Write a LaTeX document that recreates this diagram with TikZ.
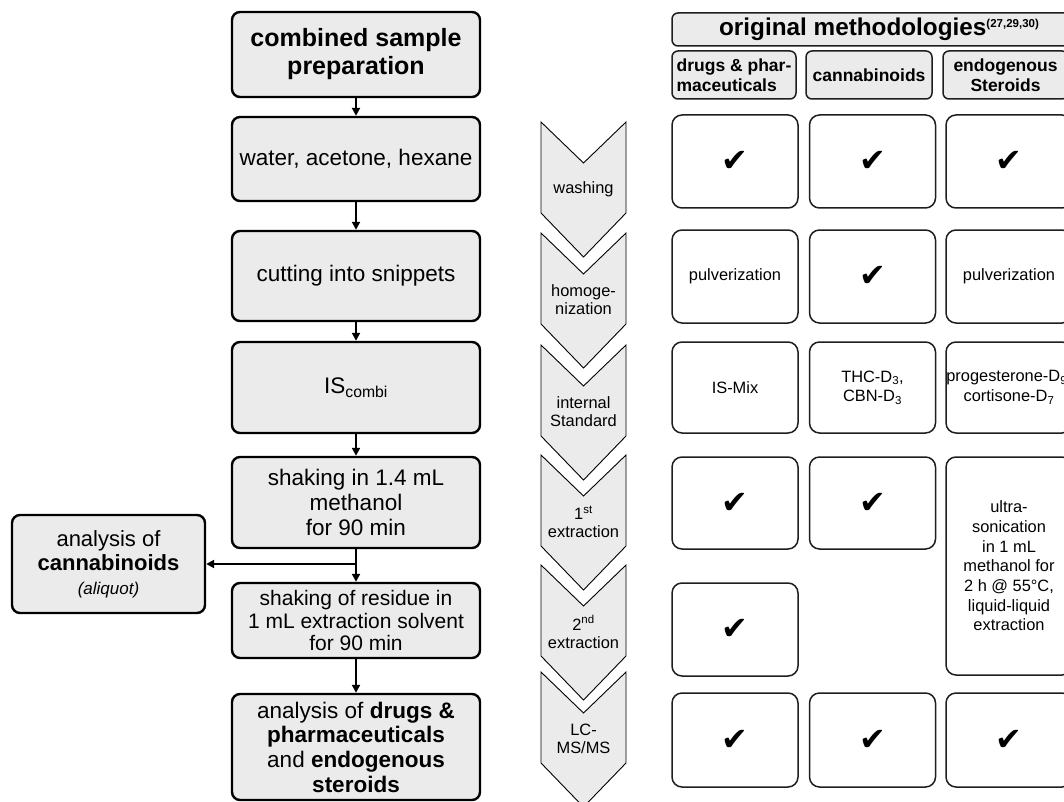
\documentclass[tikz,border=0pt]{standalone}
\usepackage{fontspec}
\setmainfont{Liberation Sans}
\newfontfamily\symfont{DejaVu Sans}
\usetikzlibrary{arrows.meta}
\definecolor{boxfill}{RGB}{235,235,235}
\definecolor{lineclr}{RGB}{30,30,30}
\newcommand{\tick}{{\symfont\fontsize{32}{32}\selectfont ✔}}
\begin{document}
\begin{tikzpicture}[x=1pt,y=-1pt,
 lbox/.style={draw=black, line width=2.4pt, fill=boxfill, rounded corners=8pt, align=center, inner sep=0pt, minimum width=248pt, font=\fontsize{22.5}{25}\selectfont},
 cell/.style={draw=lineclr, line width=1.5pt, rounded corners=10pt, align=center, inner sep=0pt, minimum width=126pt, minimum height=93pt, font=\fontsize{16.4}{19.7}\selectfont},
 hbox/.style={draw=lineclr, line width=1.5pt, fill=boxfill, rounded corners=6pt, inner sep=0pt, minimum height=48pt, font=\bfseries\fontsize{17.5}{20}\selectfont},
 chev/.style={draw=black, line width=0.9pt, fill=boxfill},
 chevtext/.style={align=center, inner sep=0pt, font=\fontsize{16.4}{18}\selectfont},
 arr/.style={line width=2pt, -{Triangle[length=8pt,width=8pt]}},
 ]
\clip (0,0) rectangle (1064,802);
\fill[white] (0,0) rectangle (1064,802);

% ---------- left flow ----------
\node[lbox, minimum height=85pt, font=\bfseries\fontsize{25}{28}\selectfont] (b1) at (356,54.5) {combined sample\\preparation};
\node[lbox, minimum height=84pt] (b2) at (356,159) {water, acetone, hexane};
\node[lbox, minimum height=90pt] (b3) at (356,276) {cutting into snippets};
\node[lbox, minimum height=91pt] (b4) at (356,387.5) {IS\textsubscript{combi}};
\node[lbox, minimum height=91pt] (b5) at (356,502.5) {shaking in 1.4 mL\\methanol\\for 90 min};
\node[lbox, minimum height=75pt, font=\fontsize{21}{22.5}\selectfont] (b6) at (356,620.5) {shaking of residue in\\1 mL extraction solvent\\for 90 min};
\node[lbox, minimum height=106pt, font=\fontsize{22.5}{24.7}\selectfont] (b7) at (356,747) {analysis of \textbf{drugs \&}\\\textbf{pharmaceuticals}\\and \textbf{endogenous}\\\textbf{steroids}};
\node[lbox, minimum width=193pt, minimum height=98pt, font=\fontsize{22}{24}\selectfont] (canna) at (108.5,564) {analysis of\\\textbf{cannabinoids}\\{\itshape\fontsize{17}{20}\selectfont (aliquot)}};

\coordinate (br) at (356,564);
\draw[arr] (b1) -- (b2);
\draw[arr] (b2) -- (b3);
\draw[arr] (b3) -- (b4);
\draw[arr] (b4) -- (b5);
\draw[line width=2pt] (b5.south) -- (br);
\draw[arr] (br) -- (b6.north);
\draw[arr] (br) -- (canna.east);
\draw[arr] (b6) -- (b7);

% ---------- chevrons ----------
\foreach \t/\lab/\txt in {122/c1/washing, 233/c2/{homoge-\\nization}, 345/c3/{internal\\Standard}, 455/c4/{1\textsuperscript{st}\\extraction}, 565/c5/{2\textsuperscript{nd}\\extraction}, 672/c6/{LC-\\MS/MS}}{
  \draw[chev] (541,\t) -- (583.5,\t+41) -- (626,\t) -- (626,\t+91) -- (583.5,\t+135) -- (541,\t+91) -- cycle;
  \node[chevtext] (\lab) at (583.5,\t+67) {\txt};
}

% ---------- right table ----------
\node[hbox, minimum width=414pt, minimum height=33pt, font=\bfseries\fontsize{24.3}{26}\selectfont] (head) at (879,29.5) {original methodologies\raisebox{8pt}{\fontsize{11.5}{12}\selectfont(27,29,30)}};
\node[hbox, minimum width=124pt, align=left] (h1) at (734,75) {drugs \& phar-\\maceuticals};
\node[hbox, minimum width=126pt, align=center] (h2) at (869,75) {cannabinoids};
\node[hbox, minimum width=125pt, align=center] (h3) at (1005.5,75) {endogenous\\Steroids};

% row 1
\node[cell] (r1c1) at (735,161.5) {\tick};
\node[cell] (r1c2) at (872.5,161.5) {\tick};
\node[cell] (r1c3) at (1009,161.5) {\tick};
% row 2
\node[cell] (r2c1) at (735,276.5) {pulverization};
\node[cell] (r2c2) at (872.5,276.5) {\tick};
\node[cell] (r2c3) at (1009,276.5) {pulverization};
% row 3
\node[cell, minimum height=91pt] (r3c1) at (735,387.5) {IS-Mix};
\node[cell, minimum height=91pt] (r3c2) at (872.5,387.5) {THC-D\textsubscript{3},\\CBN-D\textsubscript{3}};
\node[cell, minimum height=91pt] (r3c3) at (1009,387.5) {progesterone-D\textsubscript{9},\\cortisone-D\textsubscript{7}};
% row 4
\node[cell, minimum height=92pt] (r4c1) at (735,503) {\tick};
\node[cell, minimum height=92pt] (r4c2) at (872.5,503) {\tick};
\node[cell, minimum height=218pt] (r4c3) at (1009,566) {ultra-\\sonication\\in 1 mL\\methanol for\\2 h @ 55°C,\\liquid-liquid\\extraction};
% row 5
\node[cell] (r5c1) at (735,629.5) {\tick};
% row 6
\node[cell, minimum height=94pt] (r6c1) at (735,740) {\tick};
\node[cell, minimum height=94pt] (r6c2) at (872.5,740) {\tick};
\node[cell, minimum height=94pt] (r6c3) at (1009,740) {\tick};
\end{tikzpicture}
\end{document}
